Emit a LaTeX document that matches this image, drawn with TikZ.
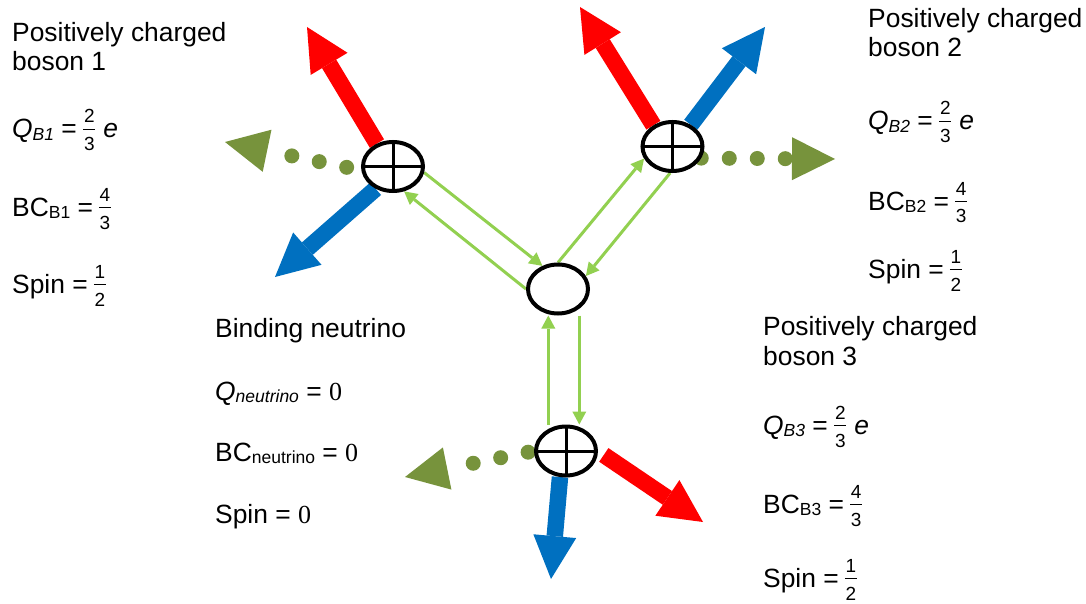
\documentclass[tikz,border=0pt]{standalone}
\usepackage{fontspec}
\setmainfont{Liberation Sans}
\newfontfamily\serifdigits{Liberation Serif}
\usetikzlibrary{arrows.meta,shapes.geometric}

\pgfdeclarelayer{back}
\pgfsetlayers{back,main}

\definecolor{arrowred}{HTML}{FF0000}
\definecolor{arrowblue}{HTML}{0070C0}
\definecolor{olivegreen}{HTML}{77933C}
\definecolor{bindgreen}{HTML}{92D050}

% lowered small subscript
\newcommand\sub[1]{\raisebox{-2.5pt}{\fontsize{17.5}{17.5}\selectfont #1}}
% small stacked fraction, bar centred on the equals sign
\newcommand\fr[2]{%
  \raisebox{8.5pt}{%
    \fontsize{19}{19}\selectfont
    \rlap{\raisebox{6.5pt}{\makebox[12pt]{#1}}}%
    \rlap{\rule[-0.9pt]{12pt}{1.8pt}}%
    \raisebox{-21.5pt}{\makebox[12pt]{#2}}}}
\newcommand\zero{{\serifdigits\fontsize{26}{26}\selectfont 0}}

\tikzset{
  lbl/.style={anchor=base west, inner sep=0pt, font=\fontsize{26.4}{29}\selectfont},
  particle/.style={ellipse, draw, line width=4pt, fill=white,
    minimum width=60pt, minimum height=49pt, inner sep=0pt},
  boson/.style={particle, path picture={
    \draw[line width=3pt]
      (path picture bounding box.west) -- (path picture bounding box.east)
      (path picture bounding box.north) -- (path picture bounding box.south);}},
  fat/.style={line width=16.5pt, -{Triangle[length=43pt,width=43pt,line width=0pt]}},
  gdots/.style={olivegreen, line width=15pt, line cap=round,
    dash pattern=on 0pt off 28pt,
    -{Triangle[length=43pt,width=43pt,line width=0pt]}},
  bindarrow/.style={bindgreen, line width=3pt,
    -{Triangle[length=13pt,width=14pt,line width=0pt]}},
}

\begin{document}
\begin{tikzpicture}[x=1pt,y=-1pt]
\useasboundingbox (0,0) rectangle (1086,604);

% particles
\node[boson] (b1) at (393,166.5) {};
\node[boson] (b2) at (672.5,146.5) {};
\node[particle] (nu) at (558,289) {};
\node[boson] (b3) at (566,451) {};

% free ends of the emitted arrows
\coordinate (r1) at (307,27);
\coordinate (u1) at (275,277);
\coordinate (g1) at (225,142);
\coordinate (r2) at (580,7);
\coordinate (u2) at (765,27);
\coordinate (g2) at (835,159);
\coordinate (r3) at (703,522);
\coordinate (u3) at (551,579);
\coordinate (g3) at (405,477);

\begin{pgfonlayer}{back}
  % boson 1
  \draw[fat, arrowred] (b1.125) -- (r1);
  \draw[fat, arrowblue] (b1.232) -- (u1);
  \draw[gdots, dash phase=13pt] (b1.187) -- (g1);
  % boson 2
  \draw[fat, arrowred] (b2.132) -- (r2);
  \draw[fat, arrowblue] (b2.50) -- (u2);
  \draw[gdots] (b2.-22) -- (g2);
  % boson 3
  \draw[fat, arrowred, shorten <=7pt] (b3.east) -- (r3);
  \draw[fat, arrowblue] (b3.257) -- (u3);
  \draw[gdots, dash phase=22pt] (b3.west) -- (g3);
  % binding exchange with the neutrino
  \draw[bindarrow] (b1.-11) -- (nu.124);
  \draw[bindarrow] (nu.180) -- (b1.-66);
  \draw[bindarrow] (nu.90) -- (b2.203);
  \draw[bindarrow] (b2.265) -- (nu.25);
  \draw[bindarrow] ([xshift=-17.7pt]b3.north) -- ([xshift=-9.7pt]nu.south);
  \draw[bindarrow] ([xshift=21.3pt]nu.south) -- ([xshift=13.3pt]b3.north);
\end{pgfonlayer}

% boson 1 properties
\node[lbl] (t1a) at (12,42) {Positively charged};
\node[lbl] (t1b) at (12,71) {boson 1};
\node[lbl] (t1q) at (12,138) {\textit{Q}\sub{\textit{B1}} =\kern6.5pt\fr{2}{3}\kern8pt\textit{e}};
\node[lbl] (t1c) at (12,216) {BC\sub{B1} =\kern6pt\fr{4}{3}};
\node[lbl] (t1s) at (12,293) {Spin =\kern6pt\fr{1}{2}};

% boson 2 properties
\node[lbl] (t2a) at (868,28) {Positively charged};
\node[lbl] (t2b) at (868,57) {boson 2};
\node[lbl] (t2q) at (868,130) {\textit{Q}\sub{\textit{B2}} =\kern6.5pt\fr{2}{3}\kern8pt\textit{e}};
\node[lbl] (t2c) at (868,210) {BC\sub{B2} =\kern6pt\fr{4}{3}};
\node[lbl] (t2s) at (868,278) {Spin =\kern6pt\fr{1}{2}};

% boson 3 properties
\node[lbl] (t3a) at (763,335) {Positively charged};
\node[lbl] (t3b) at (763,365) {boson 3};
\node[lbl] (t3q) at (763,434) {\textit{Q}\sub{\textit{B3}} =\kern6.5pt\fr{2}{3}\kern8pt\textit{e}};
\node[lbl] (t3c) at (763,513) {BC\sub{B3} =\kern6pt\fr{4}{3}};
\node[lbl] (t3s) at (763,587) {Spin =\kern6pt\fr{1}{2}};

% neutrino properties
\node[lbl] (tna) at (215,337) {Binding neutrino};
\node[lbl] (tnq) at (215,400) {\textit{Q}\sub{\textit{neutrino}} = \zero};
\node[lbl] (tnc) at (215,461) {BC\sub{neutrino} = \zero};
\node[lbl] (tns) at (215,523) {Spin = \zero};
\end{tikzpicture}
\end{document}
